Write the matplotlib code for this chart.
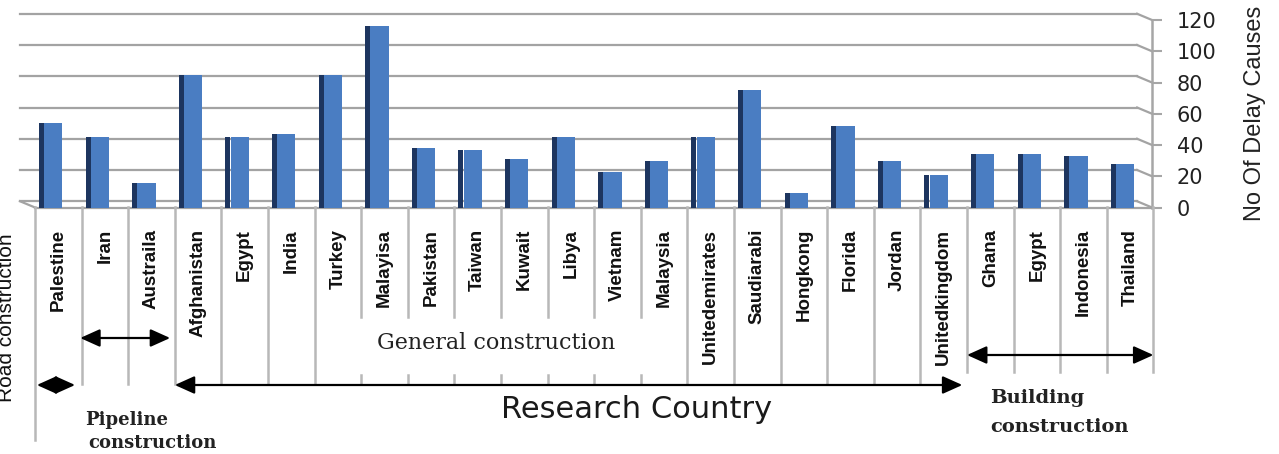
import matplotlib
matplotlib.use('Agg')
import matplotlib.pyplot as plt
import matplotlib.transforms as mtransforms
import numpy as np

# data
countries = ['Palestine', 'Iran', 'Austraila', 'Afghanistan', 'Egypt', 'India', 'Turkey',
             'Malayisa', 'Pakistan', 'Taiwan', 'Kuwait', 'Libya', 'Vietnam', 'Malaysia',
             'Unitedemirates', 'Saudiarabi', 'Hongkong', 'Florida', 'Jordan',
             'Unitedkingdom', 'Ghana', 'Egypt', 'Indonesia', 'Thailand']
delay_causes = [54, 45, 16, 85, 45, 47, 85, 116, 38, 37, 31, 45, 23, 30, 45, 75, 9, 52,
                30, 21, 34, 34, 33, 28]
yticks = [0, 20, 40, 60, 80, 100, 120]

W, H = 1279, 454
fig = plt.figure(figsize=(W / 100, H / 100), dpi=100)


def px_box(x0, y0, x1, y1):
    return [x0 / W, 1 - y1 / H, (x1 - x0) / W, (y1 - y0) / H]


ax = fig.add_axes(px_box(20, 20, 1152, 207.5))
lax = fig.add_axes([0, 0, 1, 1])
lax.set_xlim(0, W)
lax.set_ylim(H, 0)
lax.axis('off')
lax.patch.set_alpha(0)

x = np.arange(len(countries))
xl, xr = -0.822, 23.47
ax.set_xlim(xl, xr)
ax.set_ylim(0, 120)

# 3d-looking bars: dark side + front face
ax.bar(x - 0.36, delay_causes, width=0.11, color='#1d355f', zorder=3)
ax.bar(x - 0.107, delay_causes, width=0.39, color='#4a7dc2', zorder=3)

# back wall grid with slant to the axis
off = 4
grid_kw = dict(color='#a3a3a3', lw=1.6, clip_on=False, zorder=1)
xbr = xr - 0.32
for v in yticks:
    ax.plot([xl, xbr], [v + off, v + off], **grid_kw)
    ax.plot([xbr, xr], [v + off, v], **grid_kw)
ax.plot([-0.5, xr], [0, 0], **grid_kw)
ax.plot([xl, -0.5], [off, 0], **grid_kw)

for s in ['top', 'left', 'bottom']:
    ax.spines[s].set_visible(False)
ax.spines['right'].set_color('#a6a6a6')
ax.spines['right'].set_linewidth(1.8)
ax.set_xticks([])
ax.yaxis.tick_right()
ax.set_yticks(yticks)
ax.tick_params(axis='y', length=7, width=1.5, color='#a6a6a6', pad=11,
               labelsize=15, labelcolor='#222222')
ax.patch.set_alpha(0)

lax.text(1255, 113, 'No Of Delay Causes', rotation=90, ha='center', va='center',
         fontsize=17, family='Liberation Sans', color='#222222')

# table below the bars
trans = mtransforms.blended_transform_factory(ax.transData, lax.transData)
line_kw = dict(color='#b8b8b8', lw=1.8, transform=trans)
for k in range(len(countries) + 1):
    b = k - 0.5
    if k == 0:
        lax.plot([b, b], [207, 440], **line_kw)
    elif 7 <= k <= 13:
        lax.plot([b, b], [207, 317], **line_kw)
        lax.plot([b, b], [375, 384], **line_kw)
    elif k >= 20:
        lax.plot([b, b], [207, 372], **line_kw)
    else:
        lax.plot([b, b], [207, 384], **line_kw)

for i, name in enumerate(countries):
    lax.text(i, 229, name, rotation=90, ha='center', va='top', transform=trans,
             fontsize=13.5, fontweight='bold', family='Liberation Sans',
             color='#111111')

arrow_kw = dict(arrowstyle='<|-|>,head_length=1.0,head_width=0.45', mutation_scale=12,
                lw=1.6, color='black', shrinkA=0, shrinkB=0)


def span(x0, x1, y):
    lax.annotate('', xy=(x1, y), xytext=(x0, y), xycoords=trans, textcoords=trans,
                 arrowprops=arrow_kw)


span(-0.46, 0.36, 385)
span(0.47, 2.4, 338)
span(2.5, 19.4, 385)
span(19.5, 23.5, 355)

lax.text(7, 318, 'Road construction', rotation=90, ha='center', va='center',
         fontsize=15, family='Liberation Sans', color='#111111')
lax.text(85, 420, 'Pipeline', ha='left', va='center', fontsize=13,
         fontweight='bold', family='DejaVu Serif', color='#222222')
lax.text(88, 443, 'construction', ha='left', va='center', fontsize=13,
         fontweight='bold', family='DejaVu Serif', color='#222222')
lax.text(496, 343, 'General construction', ha='center', va='center', fontsize=16,
         family='DejaVu Serif', color='#222222')
lax.text(637, 410, 'Research Country', ha='center', va='center', fontsize=22,
         family='DejaVu Sans', color='#1a1a1a')
lax.text(990, 398, 'Building', ha='left', va='center', fontsize=14,
         fontweight='bold', family='DejaVu Serif', color='#222222')
lax.text(990, 427, 'construction', ha='left', va='center', fontsize=14,
         fontweight='bold', family='DejaVu Serif', color='#222222')

fig.savefig('out.png', dpi=100)
